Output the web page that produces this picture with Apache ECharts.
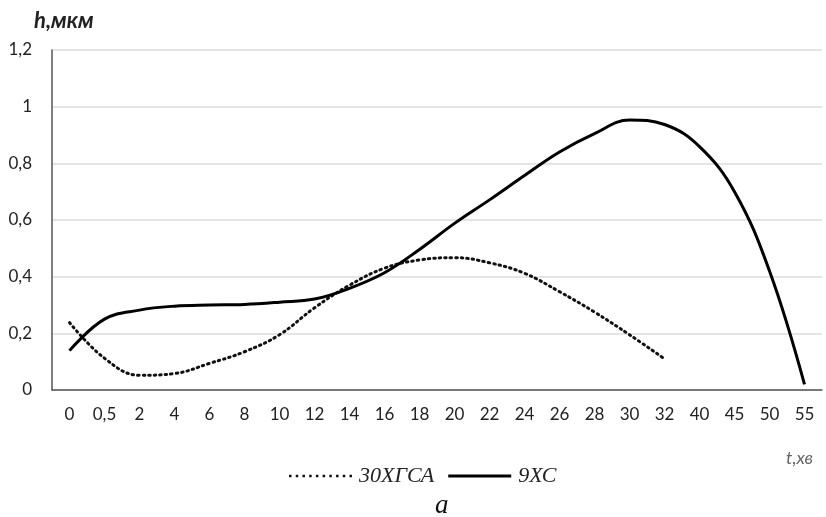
<!DOCTYPE html>
<html><head><meta charset="utf-8">
<script src="https://cdn.jsdelivr.net/npm/echarts@6/dist/echarts.min.js"></script>
<style>html,body{margin:0;padding:0;background:#fff}#c{width:826px;height:517px}</style>
</head><body><div id="c"></div>
<script>
const categories = ['0','0,5','2','4','6','8','10','12','14','16','18','20','22','24','26','28','30','32','40','45','50','55'];
const seriesNames = ['30ХГСА','9ХС'];
const values30 = [0.238,0.112,0.052,0.058,0.094,0.135,0.195,0.29,0.37,0.43,0.459,0.467,0.449,0.412,0.347,0.275,0.195,0.11,null,null,null,null];
const values9 = [0.139,0.25,0.282,0.296,0.30,0.302,0.31,0.321,0.359,0.414,0.496,0.588,0.671,0.757,0.84,0.905,0.953,0.937,0.859,0.70,0.42,0.02];
const yTicks = [0,0.2,0.4,0.6,0.8,1,1.2];

// dotted legend glyph: a row of small squares
let dots = '';
for (let i = 0; i < 10; i++) { const x = i * 6.4; dots += 'M' + x.toFixed(1) + ',0h2.4v2.4h-2.4z'; }
const dottedIcon = 'path://' + dots;

const chart = echarts.init(document.getElementById('c'));
chart.setOption({
  animation:false,
  backgroundColor:'#fff',
  title:[
    {text:'h,мкм',left:29,top:5,textStyle:{fontFamily:'Lato',fontSize:22,fontWeight:'bold',fontStyle:'italic',color:'#222'}},
    {text:'t,хв',left:781,top:444,textStyle:{fontFamily:'Lato',fontSize:18,fontWeight:'normal',fontStyle:'italic',color:'#666'}},
    {text:'a',left:430,top:487,textStyle:{fontFamily:'Liberation Serif',fontSize:27,fontWeight:'normal',fontStyle:'italic',color:'#111'}}
  ],
  legend:{
    top:460,left:284,itemWidth:63,itemHeight:3,itemGap:14,
    textStyle:{fontFamily:'Liberation Serif',fontStyle:'italic',fontSize:22,color:'#222',padding:[0,0,0,2]},
    data:[{name:seriesNames[0],icon:dottedIcon},{name:seriesNames[1],icon:'rect'}]
  },
  grid:{left:52,right:4,top:50,bottom:127,containLabel:false},
  xAxis:{
    type:'category',data:categories,boundaryGap:true,
    axisLine:{lineStyle:{color:'#555',width:1.5}},
    axisTick:{show:false},
    axisLabel:{fontFamily:'Lato',fontSize:17,color:'#222',margin:16,interval:0},
    splitLine:{show:false}
  },
  yAxis:{
    type:'value',min:0,max:1.2,interval:0.2,
    axisLine:{show:true,lineStyle:{color:'#555',width:1.5}},
    axisTick:{show:false},
    axisLabel:{fontFamily:'Lato',fontSize:17,color:'#222',margin:20,
      formatter:v=>{const t=yTicks.find(x=>Math.abs(x-v)<1e-6);return String(t!==undefined?t:Math.round(v*10)/10).replace('.',',');}},
    splitLine:{lineStyle:{color:'#dcdcdc',width:1.5}}
  },
  series:[
    {name:seriesNames[0],type:'line',data:values30,smooth:0.4,symbol:'none',connectNulls:false,
     lineStyle:{color:'#111',width:3,type:[1.5,4],cap:'round'},itemStyle:{color:'#111'}},
    {name:seriesNames[1],type:'line',data:values9,smooth:0.4,symbol:'none',
     lineStyle:{color:'#000',width:3,type:'solid'},itemStyle:{color:'#000'}}
  ]
});
</script></body></html>
